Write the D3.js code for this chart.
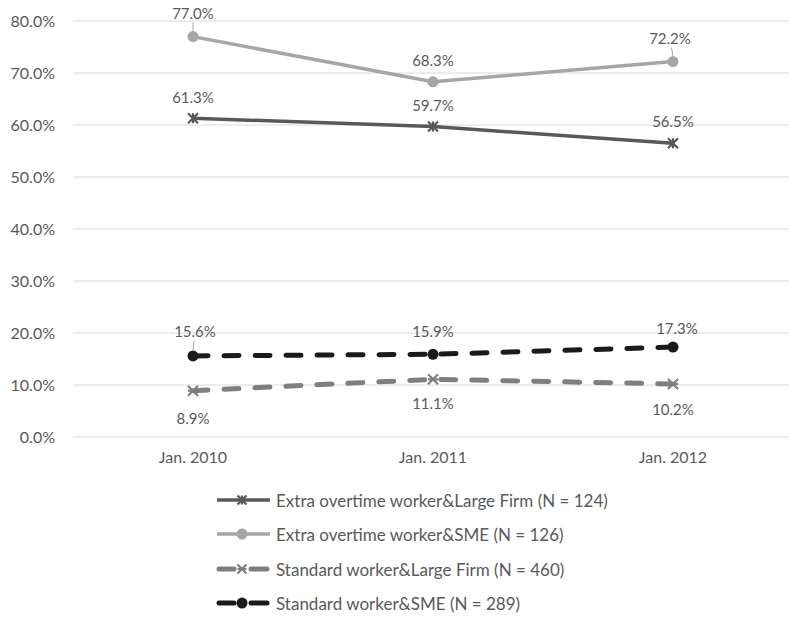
<!DOCTYPE html>
<html><head><meta charset="utf-8">
<script src="https://cdn.jsdelivr.net/npm/d3@7"></script>
<style>body{margin:0;background:#fff;} svg{display:block;font-family:Lato,"Open Sans",sans-serif;}</style>
</head><body>
<svg id="c" width="789" height="617"></svg>
<script>
const categories = ["Jan. 2010", "Jan. 2011", "Jan. 2012"];
const seriesNames = [
  "Extra overtime worker&Large Firm (N = 124)",
  "Extra overtime worker&SME (N = 126)",
  "Standard worker&Large Firm (N = 460)",
  "Standard worker&SME (N = 289)"
];
const extraLarge = [61.3, 59.7, 56.5];
const extraSME = [77.0, 68.3, 72.2];
const standardLarge = [8.9, 11.1, 10.2];
const standardSME = [15.6, 15.9, 17.3];
const yTicks = [0, 10, 20, 30, 40, 50, 60, 70, 80];

const series = [
  {name: seriesNames[0], values: extraLarge, color: "#595959", dash: null, marker: "star", w: 3.5},
  {name: seriesNames[1], values: extraSME, color: "#a6a6a6", dash: null, marker: "circle", w: 3.5},
  {name: seriesNames[2], values: standardLarge, color: "#7f7f7f", dash: "15,16", marker: "xstar", w: 5},
  {name: seriesNames[3], values: standardSME, color: "#1a1a1a", dash: "15,16", marker: "circle", w: 5}
];

const svg = d3.select("#c");
const x = d3.scaleBand().domain(categories).range([73, 793]);
const y = d3.scaleLinear().domain([0, 80]).range([437, 21]);
const cx = c => x(c) + x.bandwidth() / 2;

// gridlines
svg.append("g").selectAll("line").data(yTicks).join("line")
  .attr("x1", 73).attr("x2", 789).attr("y1", d => y(d)).attr("y2", d => y(d))
  .attr("stroke", "#d9d9d9").attr("stroke-width", 1);

// y axis labels
const yAxis = d3.axisLeft(y).tickValues(yTicks).tickFormat(d => d.toFixed(1) + "%").tickSize(0).tickPadding(0);
const ya = svg.append("g").attr("transform", "translate(55,0)").call(yAxis);
ya.select(".domain").remove();
ya.selectAll("text").attr("fill", "#595959").style("font-size", "16px").style("font-family", "Lato, sans-serif");

// x axis labels
const xAxis = d3.axisBottom(x).tickSize(0).tickPadding(0);
const xa = svg.append("g").attr("transform", "translate(0,452)").call(xAxis);
xa.select(".domain").remove();
xa.selectAll("text").attr("fill", "#595959").style("font-size", "16px").style("font-family", "Lato, sans-serif");

function drawMarker(g, type, px, py, color, s) {
  if (type === "circle") {
    g.append("circle").attr("cx", px).attr("cy", py).attr("r", s).attr("fill", color);
  } else if (type === "star") {
    const r = s;
    g.append("path").attr("d",
      `M${px-r},${py-r}L${px+r},${py+r}M${px-r},${py+r}L${px+r},${py-r}M${px},${py-r}L${px},${py+r}`)
      .attr("stroke", color).attr("stroke-width", 2.2).attr("fill", "none");
  } else if (type === "xstar") {
    const r = s;
    g.append("path").attr("d",
      `M${px-r},${py-r}L${px+r},${py+r}M${px-r},${py+r}L${px+r},${py-r}M${px-r},${py}L${px+r},${py}`)
      .attr("stroke", color).attr("stroke-width", 2.2).attr("fill", "none");
  }
}

const line = d3.line().x((d, i) => cx(categories[i])).y(d => y(d));

series.forEach(s => {
  const g = svg.append("g");
  g.append("path").datum(s.values).attr("d", line)
    .attr("fill", "none").attr("stroke", s.color).attr("stroke-width", s.w)
    .attr("stroke-linecap", s.dash ? "round" : "butt").attr("stroke-linejoin", "round")
    .attr("stroke-dasharray", s.dash);
  s.values.forEach((v, i) => {
    drawMarker(g, s.marker, cx(categories[i]), y(v), s.color, s.marker === "circle" ? 5.5 : 5);
  });
});

// data labels
const labelOffsets = {
  0: [[0, -21], [0, -22], [0, -22]],
  1: [[0, -24], [0, -22], [-3, -24]],
  2: [[0, 27], [0, 24], [0, 25]],
  3: [[2, -25], [0, -23], [4, -19]]
};
series.forEach((s, si) => {
  s.values.forEach((v, i) => {
    const px = cx(categories[i]), py = y(v);
    const [dx, dy] = labelOffsets[si][i];
    svg.append("text").attr("x", px + dx).attr("y", py + dy)
      .attr("text-anchor", "middle").attr("dominant-baseline", "central")
      .attr("fill", "#595959").style("font-size", "15px")
      .text(v.toFixed(1) + "%");
  });
});
const leaders = [[1, 0], [1, 2], [3, 0]];
leaders.forEach(([si, i]) => {
  const s = series[si];
  const px = cx(categories[i]), py = y(s.values[i]);
  const [dx, dy] = labelOffsets[si][i];
  svg.append("line").attr("x1", px + dx * 0.5).attr("y1", py + dy + 10)
    .attr("x2", px).attr("y2", py - 5)
    .attr("stroke", "#a6a6a6").attr("stroke-width", 1);
});

// legend
const legendY = [500, 534, 569, 603];
series.forEach((s, i) => {
  const g = svg.append("g");
  const ly = legendY[i];
  if (s.dash) {
    g.append("line").attr("x1", 219).attr("x2", 234).attr("y1", ly).attr("y2", ly)
      .attr("stroke", s.color).attr("stroke-width", s.w).attr("stroke-linecap", "round");
    g.append("line").attr("x1", 251).attr("x2", 267).attr("y1", ly).attr("y2", ly)
      .attr("stroke", s.color).attr("stroke-width", s.w).attr("stroke-linecap", "round");
  } else {
    g.append("line").attr("x1", 217).attr("x2", 270).attr("y1", ly).attr("y2", ly)
      .attr("stroke", s.color).attr("stroke-width", s.w);
  }
  drawMarker(g, s.marker, 242, ly, s.color, s.marker === "circle" ? 5.5 : 4.5);
  g.append("text").attr("x", 276).attr("y", ly).attr("dominant-baseline", "central")
    .attr("fill", "#595959").style("font-size", "17px").text(s.name);
});
</script>
</body></html>
